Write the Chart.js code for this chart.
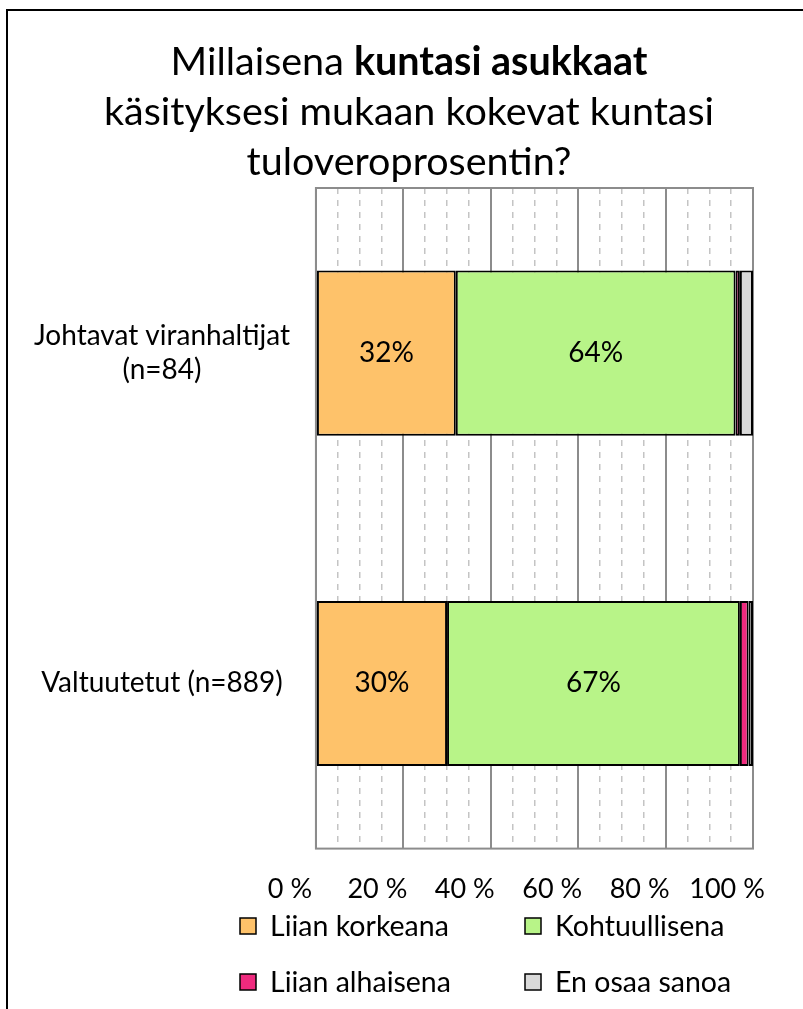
<!DOCTYPE html>
<html>
<head>
<meta charset="utf-8">
<script src="https://cdn.jsdelivr.net/npm/chart.js@4"></script>
<style>
  html, body { margin: 0; padding: 0; background: #fff; }
  #wrap { position: relative; width: 803px; height: 1009px; }
</style>
</head>
<body>
<div id="wrap"><canvas id="chart"></canvas></div>
<script>
// data
const groups = [['Johtavat viranhaltijat', '(n=84)'], 'Valtuutetut (n=889)'];
const seriesNames = ['Liian korkeana', 'Kohtuullisena', 'Liian alhaisena', 'En osaa sanoa'];
const liianKorkeana = [32, 30];
const kohtuullisena = [64, 67];
const liianAlhaisena = [1, 2];
const enOsaaSanoa = [3, 1];
const seriesColors = ['#FEC26A', '#B8F488', '#EF2A7E', '#D9D9D9'];
const titleLines = [
    [['Millaisena ', false], ['kuntasi asukkaat', true]],
    [['käsityksesi mukaan kokevat kuntasi', false]],
    [['tuloveroprosentin?', false]]
];

const FONT = 'Lato, "Open Sans", sans-serif';

// title with mixed bold text
const titlePlugin = {
    id: 'mixedTitle',
    afterDraw(chart) {
        const ctx = chart.ctx;
        ctx.save();
        ctx.fillStyle = '#000';
        ctx.textBaseline = 'middle';
        const cx = 409;
        titleLines.forEach((parts, i) => {
            const y = 62 + i * 50;
            let total = 0;
            parts.forEach(p => {
                ctx.font = (p[1] ? 'bold ' : '') + '39.5px ' + FONT;
                total += ctx.measureText(p[0]).width;
            });
            let x = cx - total / 2;
            parts.forEach(p => {
                ctx.font = (p[1] ? 'bold ' : '') + '39.5px ' + FONT;
                ctx.fillText(p[0], x, y);
                x += ctx.measureText(p[0]).width;
            });
        });
        ctx.restore();
    }
};

// outer frame + plot box
const framePlugin = {
    id: 'frame',
    beforeDraw(chart) {
        const ctx = chart.ctx;
        ctx.save();
        ctx.fillStyle = '#fff';
        ctx.fillRect(0, 0, chart.width, chart.height);
        ctx.strokeStyle = '#000';
        ctx.lineWidth = 2;
        ctx.strokeRect(7, 10, chart.width + 50, chart.height + 50);
        ctx.restore();
    },
    beforeDatasetsDraw(chart) {
        const a = chart.chartArea;
        const ctx = chart.ctx;
        ctx.save();
        ctx.strokeStyle = '#8C8C8C';
        ctx.lineWidth = 2;
        ctx.strokeRect(a.left, a.top, a.right - a.left, a.bottom - a.top);
        ctx.restore();
    }
};

// percentage labels inside the big segments
const valueLabels = {
    id: 'valueLabels',
    afterDatasetsDraw(chart) {
        const ctx = chart.ctx;
        ctx.save();
        ctx.font = '28px ' + FONT;
        ctx.fillStyle = '#000';
        ctx.textAlign = 'center';
        ctx.textBaseline = 'middle';
        chart.data.datasets.forEach((ds, di) => {
            const meta = chart.getDatasetMeta(di);
            meta.data.forEach((bar, i) => {
                const v = ds.data[i];
                if (v < 10) return;
                ctx.fillText(Math.round(v) + '%', (bar.x + bar.base) / 2, bar.y);
            });
        });
        ctx.restore();
    }
};

// 2x2 legend
const gridLegend = {
    id: 'gridLegend',
    afterDraw(chart) {
        const ctx = chart.ctx;
        const cols = [240, 525];
        const rows = [926, 982];
        ctx.save();
        ctx.font = '28.5px ' + FONT;
        ctx.textBaseline = 'middle';
        chart.data.datasets.forEach((ds, i) => {
            const x = cols[i % 2];
            const y = rows[Math.floor(i / 2)];
            ctx.fillStyle = ds.backgroundColor;
            ctx.fillRect(x, y - 8, 16, 16);
            ctx.strokeStyle = '#000';
            ctx.lineWidth = 1.5;
            ctx.strokeRect(x, y - 8, 16, 16);
            ctx.fillStyle = '#000';
            ctx.fillText(ds.label, x + 30, y + 1);
        });
        ctx.restore();
    }
};

const seriesData = [liianKorkeana, kohtuullisena, liianAlhaisena, enOsaaSanoa];

new Chart(document.getElementById('chart'), {
    type: 'bar',
    data: {
        labels: groups,
        datasets: seriesNames.map((name, i) => ({
            label: name,
            data: seriesData[i],
            xAxisID: 'x',
            yAxisID: 'y',
            backgroundColor: seriesColors[i],
            borderColor: '#000',
            borderWidth: 2,
            borderSkipped: false,
            barPercentage: 0.5,
            categoryPercentage: 1.0
        }))
    },
    options: {
        indexAxis: 'y',
        responsive: true,
        maintainAspectRatio: false,
        animation: false,
        layout: { padding: { top: 188, left: 8, right: 50, bottom: 80 } },
        plugins: {
            legend: { display: false },
            tooltip: { enabled: false }
        },
        scales: {
            xMinor: {
                type: 'linear',
                position: 'bottom',
                min: 0,
                max: 100,
                ticks: { display: false, stepSize: 5 },
                grid: {
                    drawTicks: false,
                    lineWidth: 1.5,
                    color: c => (c.tick && c.tick.value % 20 === 0) ? 'rgba(0,0,0,0)' : '#C4C4C4'
                },
                border: { display: false, dash: [6, 6] }
            },
            x: {
                type: 'linear',
                position: 'bottom',
                stacked: true,
                min: 0,
                max: 100,
                afterFit(scale) {
                    // labels may hang past the plot edges, like in the original
                    scale.paddingLeft = 0;
                    scale.paddingRight = 0;
                },
                ticks: {
                    stepSize: 20,
                    color: '#000',
                    padding: 24,
                    labelOffset: -26,
                    font: { family: FONT, size: 27 },
                    callback: v => v + ' %'
                },
                grid: { drawTicks: false, color: '#8C8C8C', lineWidth: 2 },
                border: { display: false }
            },
            y: {
                stacked: true,
                ticks: {
                    color: '#000',
                    padding: 26,
                    crossAlign: 'center',
                    font: { family: FONT, size: 28 }
                },
                grid: { display: false, drawTicks: false },
                border: { display: false }
            }
        }
    },
    plugins: [framePlugin, valueLabels, titlePlugin, gridLegend]
});
</script>
</body>
</html>
